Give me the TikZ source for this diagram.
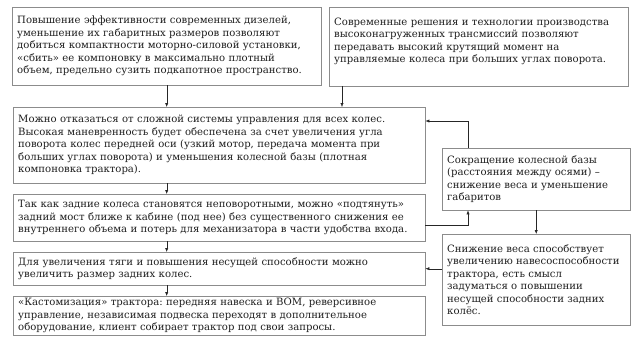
\documentclass[tikz,border=0pt]{standalone}
\usepackage{fontspec}
\setmainfont{DejaVu Serif}
\usepackage{xcolor}
\usetikzlibrary{positioning, arrows.meta, calc}
\definecolor{frm}{RGB}{140,140,140}
\definecolor{txt}{RGB}{30,30,30}
\frenchspacing
\tikzset{
  arr/.style={-{Latex[length=1.4mm,width=1.1mm]}, thin, draw=black!85},
  blk/.style={draw=frm, thin, anchor=north west, align=left, inner xsep=5pt,
    inner ysep=2pt, text=txt, font=\fontsize{10.1}{12.5}\selectfont}
}
\begin{document}
\begin{tikzpicture}[x=1pt, y=1pt]
\useasboundingbox (0,0) rectangle (637,-357);
% ---- top row ----
\node[blk, text width=299pt, minimum height=78pt] (eng) at (12,-7)
  {Повышение эффективности современных дизелей,\\
   уменьшение их габаритных размеров позволяют\\
   добиться компактности моторно-силовой установки,\\
   «сбить» ее компоновку в максимально плотный\\
   объем, предельно сузить подкапотное пространство.};
\node[blk, text width=289pt, minimum height=79pt] (trans) at (329,-7)
  {Современные решения и технологии производства\\
   высоконагруженных трансмиссий позволяют\\
   передавать высокий крутящий момент на\\
   управляемые колеса при больших углах поворота.\\ \mbox{}};
% ---- left column ----
\node[blk, text width=402pt, minimum height=76pt] (steer) at (13,-107)
  {Можно отказаться от сложной системы управления для всех колес.\\
   Высокая маневренность будет обеспечена за счет увеличения угла\\
   поворота колес передней оси (узкий мотор, передача момента при\\
   больших углах поворота) и уменьшения колесной базы (плотная\\
   компоновка трактора).};
\node[blk, text width=402pt, minimum height=47pt] (axle) at (13,-194)
  {Так как задние колеса становятся неповоротными, можно «подтянуть»\\
   задний мост ближе к кабине (под нее) без существенного снижения ее\\
   внутреннего объема и потерь для механизатора в части удобства входа.};
\node[blk, text width=402pt, minimum height=33pt] (wheel) at (13,-252)
  {Для увеличения тяги и повышения несущей способности можно\\
   увеличить размер задних колес.};
\node[blk, text width=402pt, minimum height=39pt] (custom) at (13,-296)
  {«Кастомизация» трактора: передняя навеска и ВОМ, реверсивное\\
   управление, независимая подвеска переходят в дополнительное\\
   оборудование, клиент собирает трактор под свои запросы.};
% ---- right column ----
\node[blk, text width=178pt, minimum height=62pt] (base) at (442,-148)
  {Сокращение колесной базы\\
   (расстояния между осями) –\\
   снижение веса и уменьшение\\
   габаритов};
\node[blk, text width=178pt, minimum height=91pt] (load) at (442,-234)
  {Снижение веса способствует\\
   увеличению навесоспособности\\
   трактора, есть смысл\\
   задуматься о повышении\\
   несущей способности задних\\
   колёс.};
% ---- connectors ----
\draw[arr] (eng.south) -- (eng.south |- steer.north);
\draw[arr] ([xshift=13pt]trans.south west) -- ([xshift=13pt]trans.south west |- steer.north);
\draw[arr] (steer.south -| eng.south) -- (axle.north -| eng.south);
\draw[arr] (axle.south -| eng.south) -- (wheel.north -| eng.south);
\draw[arr] (wheel.south -| eng.south) -- (custom.north -| eng.south);
\draw[arr] ([xshift=26pt]base.north west) |- ([yshift=-14pt]steer.north east);
\draw[arr] ([yshift=16pt]axle.south east) -| ([xshift=26pt]base.south west);
\draw[arr] (base.south) -- (load.north);
\draw[arr] (wheel.east -| load.west) -- (wheel.east);
\end{tikzpicture}
\end{document}
